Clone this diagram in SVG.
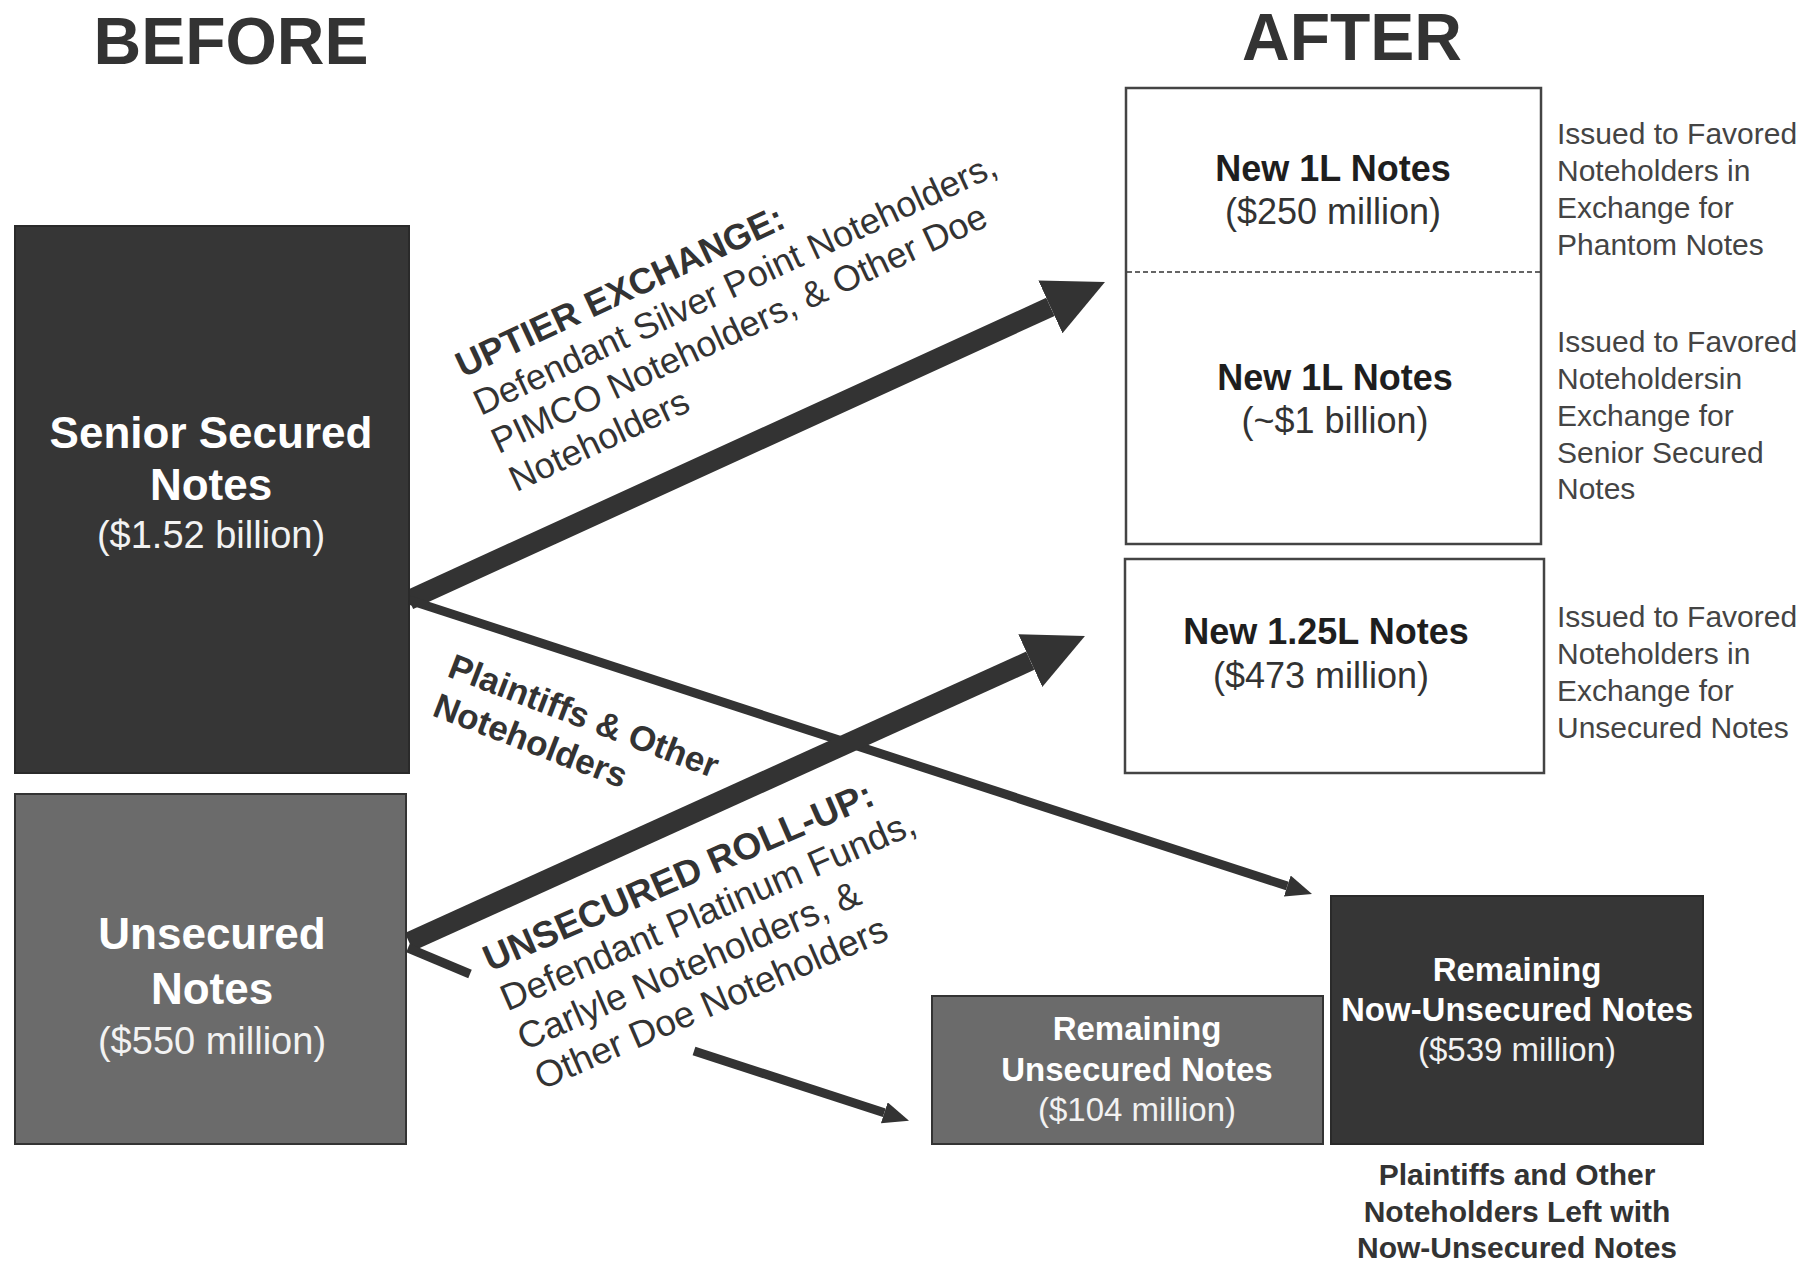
<svg xmlns="http://www.w3.org/2000/svg" width="1820" height="1261" viewBox="0 0 1820 1261">
<style>
.h{font-family:"Liberation Sans",Arial,sans-serif;font-weight:bold;fill:#333;font-size:66px;text-anchor:middle}
.wb{font-family:"Liberation Sans",Arial,sans-serif;font-weight:bold;fill:#fff;text-anchor:middle}
.wr{font-family:"Liberation Sans",Arial,sans-serif;fill:#f2f2f2;text-anchor:middle}
.kb{font-family:"Liberation Sans",Arial,sans-serif;font-weight:bold;fill:#1e1e1e;font-size:36px;text-anchor:middle}
.kr{font-family:"Liberation Sans",Arial,sans-serif;fill:#333;font-size:36px;text-anchor:middle}
.cap{font-family:"Liberation Sans",Arial,sans-serif;font-weight:bold;fill:#333;font-size:30px;text-anchor:middle}
.side{font-family:"Liberation Sans",Arial,sans-serif;fill:#444;font-size:30px}
.lab{font-family:"Liberation Sans",Arial,sans-serif;fill:#333;font-size:36px}
.labb{font-weight:bold}
.dark{fill:#363636;stroke:#2a2a2a;stroke-width:2}
.mid{fill:#6b6b6b;stroke:#333;stroke-width:2}
.white{fill:#fff;stroke:#444;stroke-width:2.5}
.thick{stroke:#333;stroke-width:20;fill:none}
.thin{stroke:#333;stroke-width:9;fill:none}
</style>
<defs>
<marker id="bigHead" markerUnits="userSpaceOnUse" markerWidth="62" markerHeight="60" refX="0" refY="29" orient="auto">
<path d="M0,0 L60,29 L0,58 Z" fill="#333"/>
</marker>
<marker id="smallHead" markerUnits="userSpaceOnUse" markerWidth="28" markerHeight="24" refX="0" refY="11" orient="auto">
<path d="M0,0 L26,11 L0,22 Z" fill="#333"/>
</marker>
</defs>
<rect width="1820" height="1261" fill="#fff"/>

<g id="headings">
<text class="h" x="231" y="64">BEFORE</text>
<text class="h" x="1352" y="60">AFTER</text>
</g>

<g id="connectors">
<line class="thick" x1="409" y1="600" x2="1050.4" y2="306.9" marker-end="url(#bigHead)"/>
<line class="thin" x1="409" y1="600" x2="1287.3" y2="886" marker-end="url(#smallHead)"/>
<line class="thick" x1="409" y1="942" x2="1030.3" y2="660.7" marker-end="url(#bigHead)"/>
<line class="thin" x1="408" y1="948" x2="470" y2="974"/>
<line class="thin" x1="694" y1="1051" x2="884.3" y2="1112.8" marker-end="url(#smallHead)"/>
</g>

<g id="senior-secured">
<rect class="dark" x="15" y="226" width="394" height="547"/>
<text class="wb" x="211" y="448" font-size="44">Senior Secured</text>
<text class="wb" x="211" y="500" font-size="44">Notes</text>
<text class="wr" x="211" y="548" font-size="38">($1.52 billion)</text>
</g>

<g id="unsecured">
<rect class="mid" x="15" y="794" width="391" height="350"/>
<text class="wb" x="212" y="949" font-size="44">Unsecured</text>
<text class="wb" x="212" y="1004" font-size="44">Notes</text>
<text class="wr" x="212" y="1054" font-size="38">($550 million)</text>
</g>

<g id="new-1l">
<rect class="white" x="1126" y="88" width="415" height="456"/>
<line x1="1127" y1="272" x2="1540" y2="272" stroke="#333" stroke-width="1.5" stroke-dasharray="5,3"/>
<text class="kb" x="1333" y="181">New 1L Notes</text>
<text class="kr" x="1333" y="224">($250 million)</text>
<text class="kb" x="1335" y="390">New 1L Notes</text>
<text class="kr" x="1335" y="433">(~$1 billion)</text>
</g>

<g id="new-125l">
<rect class="white" x="1125" y="559" width="419" height="214"/>
<text class="kb" x="1326" y="644">New 1.25L Notes</text>
<text class="kr" x="1321" y="688">($473 million)</text>
</g>

<g id="side-notes">
<text class="side" x="1557"><tspan x="1557" y="144">Issued to Favored</tspan><tspan x="1557" y="181">Noteholders in</tspan><tspan x="1557" y="218">Exchange for</tspan><tspan x="1557" y="255">Phantom Notes</tspan></text>
<text class="side" x="1557"><tspan x="1557" y="352">Issued to Favored</tspan><tspan x="1557" y="389">Noteholdersin</tspan><tspan x="1557" y="426">Exchange for</tspan><tspan x="1557" y="463">Senior Secured</tspan><tspan x="1557" y="499">Notes</tspan></text>
<text class="side" x="1557"><tspan x="1557" y="627">Issued to Favored</tspan><tspan x="1557" y="664">Noteholders in</tspan><tspan x="1557" y="701">Exchange for</tspan><tspan x="1557" y="738">Unsecured Notes</tspan></text>
</g>

<g id="remaining-unsecured">
<rect class="mid" x="932" y="996" width="391" height="148"/>
<text class="wb" x="1137" y="1040" font-size="33">Remaining</text>
<text class="wb" x="1137" y="1081" font-size="33">Unsecured Notes</text>
<text class="wr" x="1137" y="1121" font-size="33">($104 million)</text>
</g>

<g id="remaining-now-unsecured">
<rect class="dark" x="1331" y="896" width="372" height="248"/>
<text class="wb" x="1517" y="981" font-size="33">Remaining</text>
<text class="wb" x="1517" y="1021" font-size="33">Now-Unsecured Notes</text>
<text class="wr" x="1517" y="1061" font-size="33">($539 million)</text>
</g>

<g id="caption">
<text class="cap" x="1517" y="1185">Plaintiffs and Other</text>
<text class="cap" x="1517" y="1222">Noteholders Left with</text>
<text class="cap" x="1517" y="1258">Now-Unsecured Notes</text>
</g>

<g id="labels">
<g transform="translate(463,378) rotate(-25)" class="lab">
<text x="0" y="0" class="labb">UPTIER EXCHANGE:</text>
<text x="0" y="42">Defendant Silver Point Noteholders,</text>
<text x="0" y="84">PIMCO Noteholders, &amp; Other Doe</text>
<text x="0" y="126">Noteholders</text>
</g>
<g transform="translate(446,676) rotate(21)" class="lab labb" style="font-size:35px">
<text x="0" y="0">Plaintiffs &amp; Other</text>
<text x="0" y="42">Noteholders</text>
</g>
<g transform="translate(490,972) rotate(-23.5)" class="lab" style="font-size:37px">
<text x="0" y="0" class="labb">UNSECURED ROLL-UP:</text>
<text x="0" y="43">Defendant Platinum Funds,</text>
<text x="0" y="86">Carlyle Noteholders, &amp;</text>
<text x="0" y="129">Other Doe Noteholders</text>
</g>
</g>
</svg>
